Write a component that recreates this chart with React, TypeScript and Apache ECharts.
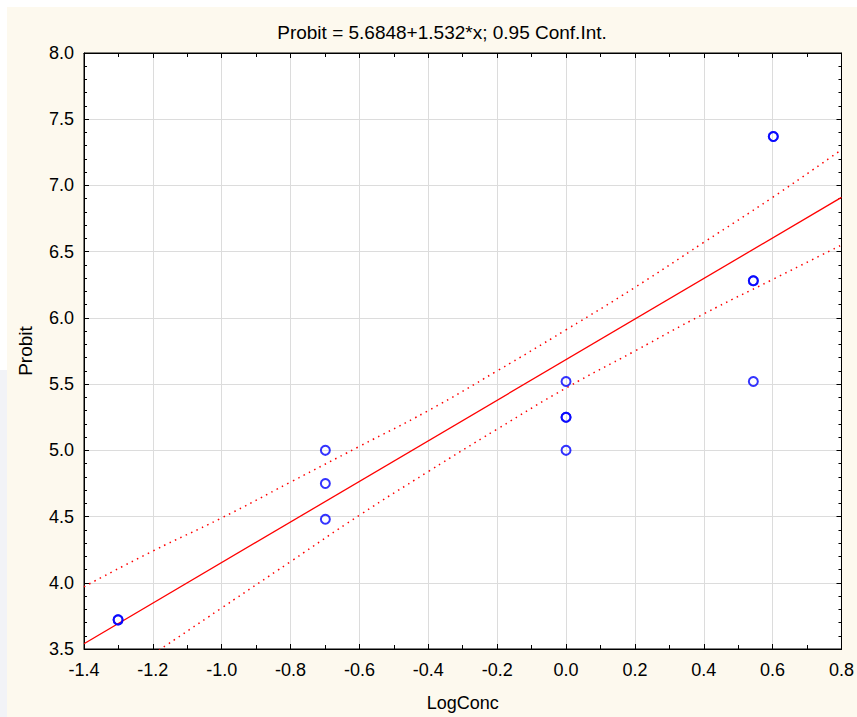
import React, { useEffect, useRef } from "react";
import * as echarts from "echarts";

const titleText = "Probit = 5.6848+1.532*x; 0.95 Conf.Int.";
const xName = "LogConc";
const yName = "Probit";

// observed points (duplicates drawn twice, as in the reference)
const pointX = [-1.301, -1.301, -0.699, -0.699, -0.699, 0, 0, 0, 0, 0.544, 0.544, 0.544, 0.602, 0.602];
const pointY = [3.72, 3.72, 5.0, 4.75, 4.48, 5.52, 5.25, 5.25, 5.0, 6.28, 6.28, 5.52, 7.37, 7.37];

// fitted line end points
const fitX = [-1.4, 0.8];
const fitY = [3.54, 6.91];

// confidence band readings
const bandX = [-1.4, -1.2, -1.0, -0.8, -0.6, -0.4, -0.2, 0, 0.2, 0.4, 0.6, 0.8];
const upperY = [3.97, 4.24, 4.49, 4.76, 5.03, 5.3, 5.6, 5.91, 6.23, 6.57, 6.91, 7.27];
const lowerY = [3.11, 3.46, 3.81, 4.16, 4.51, 4.84, 5.16, 5.47, 5.75, 6.03, 6.29, 6.55];

const FONT = "Liberation Sans, Arial, sans-serif";

export default function App() {
  const ref = useRef<HTMLDivElement>(null);
  useEffect(() => {
    const chart = echarts.init(ref.current!, null, { renderer: "svg" });
    const pairs = (xs: number[], ys: number[]) => xs.map((x, i) => [x, ys[i]]);
    const axisBase = {
      axisLine: { show: true, onZero: false, lineStyle: { color: "#000", width: 1 } },
      axisTick: { show: true, inside: true, length: 5, lineStyle: { color: "#000" } },
    };
    chart.setOption({
      animation: false,
      backgroundColor: "#ffffff",
      graphic: [
        { type: "rect", shape: { x: 0, y: 370, width: 7, height: 347 }, style: { fill: "#F2F3F7" }, z: -10 },
        { type: "rect", shape: { x: 7, y: 7, width: 850, height: 710 }, style: { fill: "#FDF9EE" }, z: -10 },
        {
          type: "text",
          x: 442,
          y: 32,
          style: { text: titleText, fill: "#000", font: `19px ${FONT}`, textAlign: "center", textVerticalAlign: "middle" },
        },
      ],
      grid: {
        left: 84,
        right: 12,
        top: 53,
        bottom: 68,
        show: true,
        backgroundColor: "#ffffff",
        borderColor: "#000",
        borderWidth: 1,
      },
      xAxis: [
        {
          type: "value",
          min: -1.4,
          max: 0.8,
          interval: 0.2,
          position: "bottom",
          name: xName,
          nameLocation: "middle",
          nameGap: 45,
          nameTextStyle: { color: "#000", fontSize: 18, fontFamily: FONT },
          ...axisBase,
          minorTick: { show: true, splitNumber: 2, length: 4, lineStyle: { color: "#000" } },
          axisLabel: {
            color: "#000",
            fontSize: 18,
            fontFamily: FONT,
            margin: 12,
            formatter: (v: number) => v.toFixed(1),
          },
          splitLine: { show: true, lineStyle: { color: "#DCDCDC", width: 1 } },
        },
        {
          type: "value",
          min: -1.4,
          max: 0.8,
          interval: 0.2,
          position: "top",
          ...axisBase,
          minorTick: { show: true, splitNumber: 2, length: 4, lineStyle: { color: "#000" } },
          axisLabel: { show: false },
          splitLine: { show: false },
        },
      ],
      yAxis: [
        {
          type: "value",
          min: 3.5,
          max: 8.0,
          interval: 0.5,
          position: "left",
          name: yName,
          nameLocation: "middle",
          nameGap: 49,
          nameTextStyle: { color: "#000", fontSize: 19, fontFamily: FONT },
          ...axisBase,
          minorTick: { show: true, splitNumber: 5, length: 3, lineStyle: { color: "#000" } },
          axisLabel: {
            color: "#000",
            fontSize: 18,
            fontFamily: FONT,
            margin: 10,
            formatter: (v: number) => v.toFixed(1),
          },
          splitLine: { show: true, lineStyle: { color: "#DCDCDC", width: 1 } },
        },
        {
          type: "value",
          min: 3.5,
          max: 8.0,
          interval: 0.5,
          position: "right",
          ...axisBase,
          minorTick: { show: true, splitNumber: 5, length: 3, lineStyle: { color: "#000" } },
          axisLabel: { show: false },
          splitLine: { show: false },
        },
      ],
      series: [
        {
          type: "line",
          data: pairs(bandX, upperY),
          smooth: true,
          symbol: "none",
          clip: true,
          lineStyle: { color: "#FF0000", width: 1.5, type: [1.5, 4.5] },
          z: 2,
        },
        {
          type: "line",
          data: pairs(bandX, lowerY),
          smooth: true,
          symbol: "none",
          clip: true,
          lineStyle: { color: "#FF0000", width: 1.5, type: [1.5, 4.5] },
          z: 2,
        },
        {
          type: "line",
          data: pairs(fitX, fitY),
          symbol: "none",
          clip: true,
          lineStyle: { color: "#FF0000", width: 1.3 },
          z: 3,
        },
        {
          type: "scatter",
          data: pairs(pointX, pointY),
          symbol: "circle",
          symbolSize: 9,
          itemStyle: { color: "rgba(255,255,255,0)", borderColor: "#0000FF", borderWidth: 2 },
          z: 4,
        },
      ],
    });
    return () => chart.dispose();
  }, []);
  return (
    <div style={{ position: "fixed", left: 0, top: 0, width: 857, height: 717 }}>
      <div ref={ref} style={{ width: 857, height: 717 }} />
    </div>
  );
}
